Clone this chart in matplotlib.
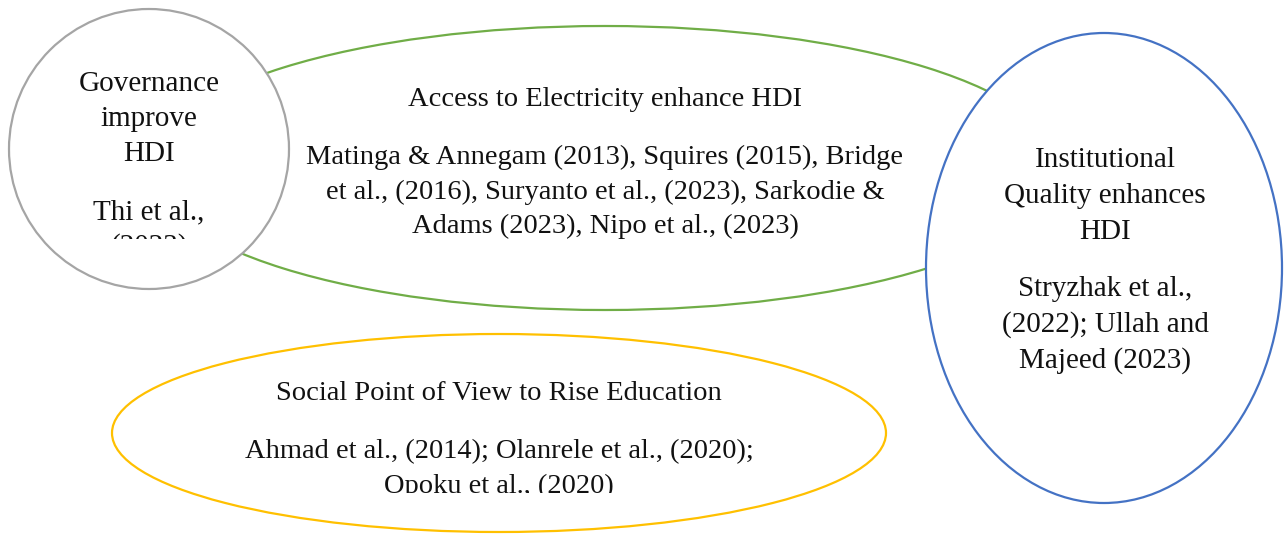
import matplotlib.pyplot as plt
from matplotlib.patches import Ellipse
from matplotlib.transforms import Bbox, TransformedBbox

# shapes: name -> centre x, centre y, width, height (pixel space of a 1284x535 canvas)
shape_names = ['electricity', 'governance', 'institution', 'social']
shape_centres = [(605, 168), (149, 149), (1104, 268), (499, 433)]
shape_sizes = [(910, 284), (280, 280), (356, 470), (774, 198)]
shape_colors = ['#70AD47', '#A5A5A5', '#4472C4', '#FFC000']

# text lines inside each shape
electricity_lines = ['Access to Electricity enhance HDI',
                     'Matinga & Annegam (2013), Squires (2015), Bridge',
                     'et al., (2016), Suryanto et al., (2023), Sarkodie &',
                     'Adams (2023), Nipo et al., (2023)']
governance_lines = ['Governance', 'improve', 'HDI', 'Thi et al.,', '(2023)']
institution_lines = ['Institutional', 'Quality enhances', 'HDI',
                     'Stryzhak et al.,', '(2022); Ullah and', 'Majeed (2023)']
social_lines = ['Social Point of View to Rise Education',
                'Ahmad et al., (2014); Olanrele et al., (2020);',
                'Opoku et al., (2020)']

texts = [electricity_lines, governance_lines, institution_lines, social_lines]
text_x = [605, 149, 1105, 499]
# baselines of each line
text_y = [[106, 164, 199, 233],
          [91, 126, 161, 219, 254],
          [167, 203, 239, 296, 332, 368],
          [400, 458, 493]]
font_sizes = [20.5, 21, 21, 20.5]
clip_bottom = [535, 239, 535, 493]

plt.rcParams['font.family'] = ['Liberation Serif', 'DejaVu Serif']

fig = plt.figure(figsize=(12.84, 5.35), dpi=100)
ax = fig.add_axes([0, 0, 1, 1])
ax.set_xlim(0, 1284)
ax.set_ylim(535, 0)
ax.axis('off')

for i, name in enumerate(shape_names):
    e = Ellipse(shape_centres[i], shape_sizes[i][0], shape_sizes[i][1],
                facecolor='white', edgecolor=shape_colors[i], linewidth=1.6,
                zorder=i + 1)
    ax.add_patch(e)

for i, lines in enumerate(texts):
    box = TransformedBbox(Bbox([[0, 0], [1284, clip_bottom[i]]]), ax.transData)
    for ln, y in zip(lines, text_y[i]):
        t = ax.text(text_x[i], y, ln, ha='center', va='baseline',
                    fontsize=font_sizes[i], color='#111111', zorder=10)
        t.set_clip_box(box)
        t.set_clip_on(True)

fig.savefig('out.png', dpi=100)
